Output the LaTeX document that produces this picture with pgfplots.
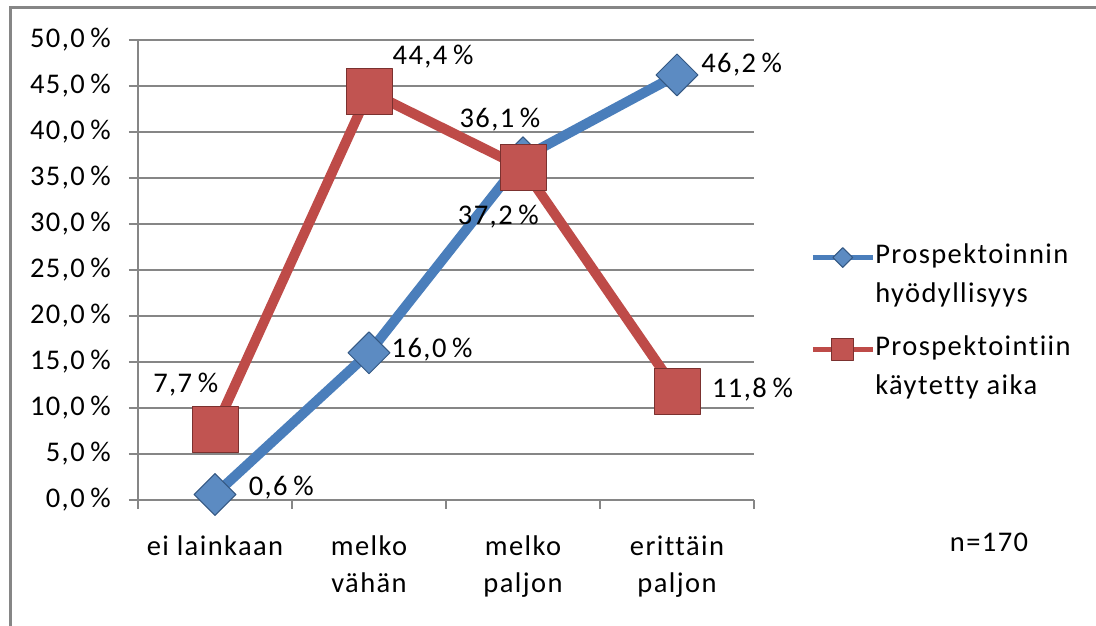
\documentclass[border=0pt]{standalone}
\usepackage{fontspec}
\setmainfont{Carlito}[LetterSpace=5, Ligatures=NoCommon]
\usepackage{pgfplots}
\pgfplotsset{compat=1.18}
\definecolor{bl}{HTML}{4A7EBB}
\definecolor{rd}{HTML}{BE4B48}
\definecolor{gridc}{HTML}{868686}
\newcommand{\pct}{\hspace{0.2em}\%}
\begin{document}
\begin{tikzpicture}[x=1pt,y=1pt,font=\fontsize{28.5}{37}\selectfont]
\path[use as bounding box] (0,0) rectangle (1096,626);
\draw[gridc, line width=3pt] (10,0) -- (10,618) -- (1096,618);
\begin{axis}[
  at={(138pt,126pt)}, anchor=south west, scale only axis,
  width=616pt, height=460pt,
  xmin=-0.5, xmax=3.5, ymin=0, ymax=50, clip=false,
  axis lines=left, axis line style={gridc, line width=1.5pt, -},
  ymajorgrids, grid style={gridc, line width=1.5pt},
  tick align=outside, major tick length=9pt,
  tick style={gridc, line width=1.5pt},
  ytick={0,5,...,50},
  /pgf/number format/assume math mode=true,
  yticklabel={\pgfmathprintnumber[fixed,fixed zerofill,precision=1,use comma]{\tick}\pct},
  yticklabel style={anchor=east, inner sep=0pt, xshift=-18pt, font=\fontsize{28.5}{37}\selectfont},
  xtick={-0.5,0.5,1.5,2.5,3.5},
  x tick label as interval,
  xticklabels={ei lainkaan, {melko\\vähän}, {melko\\paljon}, {erittäin\\paljon}},
  xticklabel style={align=center, anchor=north, inner sep=0pt, yshift=-27pt, font=\fontsize{28.5}{37}\selectfont},
  legend image code/.code={\draw[mark repeat=2,mark phase=2] plot coordinates {(0pt,0pt)(30pt,0pt)(60pt,0pt)};},
  legend style={at={(rel axis cs:1.091,0.385)}, anchor=west, draw=none, fill=none,
    inner sep=0pt, row sep=11pt, column sep=0pt,
    nodes={inner sep=0pt, text depth=, text height=},
    font=\fontsize{28.5}{37}\selectfont},
  legend cell align=left,
]
\addplot[bl, line width=10pt, line join=round, mark=square*, mark size=14.8pt,
  mark options={rotate=45, fill=bl!90!white, draw=bl!70!black, line width=1pt},
  legend image post style={line width=5pt, mark size=7pt}]
  coordinates {(0,0.6) (1,16.0) (2,37.2) (3,46.2)};
\addlegendentry{\rule[-8pt]{0pt}{28pt}Prospektoinnin}
\addlegendimage{empty legend}
\addlegendentry{\rule[-22pt]{0pt}{28pt}hyödyllisyys}
\addplot[rd, line width=10pt, line join=round, mark=square*, mark size=23pt,
  mark options={fill=rd!95!white, draw=rd!65!black, line width=1pt},
  legend image post style={line width=5pt, mark size=11pt}]
  coordinates {(0,7.7) (1,44.4) (2,36.1) (3,11.8)};
\addlegendentry{\rule[-8pt]{0pt}{28pt}Prospektointiin}
\addlegendimage{empty legend}
\addlegendentry{\rule[-8pt]{0pt}{28pt}käytetty aika}
\node at (axis cs:1.416,48.2) {44,4\pct};
\node at (axis cs:3.42,47.3) {46,2\pct};
\node at (axis cs:1.85,41.3) {36,1\pct};
\node at (axis cs:1.84,30.8) {37,2\pct};
\node at (axis cs:1.41,16.3) {16,0\pct};
\node at (axis cs:0.43,1.4) {0,6\pct};
\node at (axis cs:-0.19,12.5) {7,7\pct};
\node at (axis cs:3.49,12.0) {11,8\pct};
\node at (axis cs:5.026,-4.57) {n=170};
\end{axis}
\end{tikzpicture}
\end{document}
